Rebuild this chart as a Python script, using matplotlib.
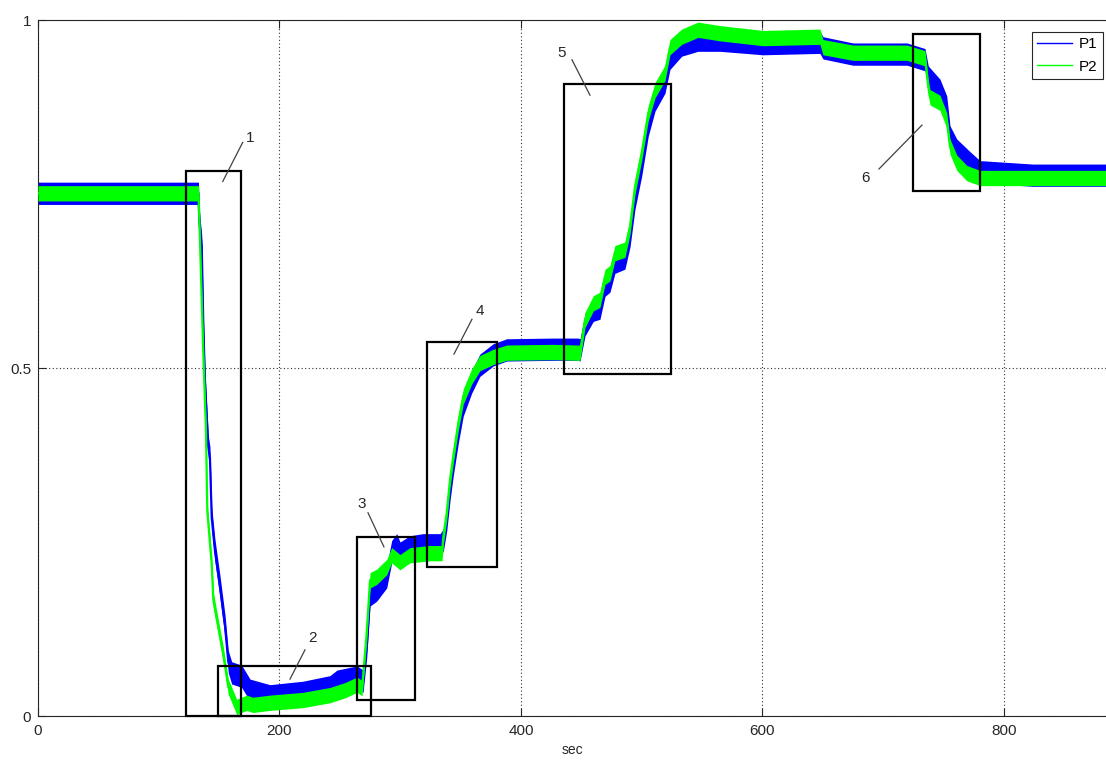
import matplotlib
matplotlib.use("Agg")
import matplotlib.pyplot as plt
from matplotlib.patches import Rectangle
from matplotlib.lines import Line2D

plt.rcParams['font.family'] = ['Liberation Sans', 'DejaVu Sans']

# ---- data (trend of each noisy trace) ----
p1_x = [0, 132.9, 133.6, 135.6, 136.9, 138.3, 141.0, 142.4, 143.9, 146.6, 150.7, 154.9,
        157.6, 160.4, 168.7, 175.6, 192.1, 219.5, 241.8, 247.6, 264.2, 269.2, 272.2, 275.0,
        280.5, 288.8, 292.9, 297.1, 299.8, 308.1, 318.8, 333.0, 335.7, 338.5, 341.2, 343.9,
        348.1, 352.2, 359.2, 366.0, 377.1, 388.2, 426.8, 447.2, 448.9, 453.0, 459.9, 465.4,
        469.6, 473.7, 477.8, 486.1, 490.3, 494.4, 500.0, 505.4, 511.0, 519.3, 523.4, 533.1,
        546.6, 564.8, 600.4, 647.6, 650.1, 675.0, 719.7, 734.6, 737.3, 747.0, 752.6, 755.3,
        760.9, 771.8, 780.1, 824.0, 884.5]
p1_y = [0.751, 0.751, 0.711, 0.675, 0.562, 0.480, 0.387, 0.371, 0.284, 0.237, 0.186, 0.129,
        0.078, 0.062, 0.057, 0.037, 0.029, 0.034, 0.042, 0.050, 0.056, 0.050, 0.099, 0.174,
        0.181, 0.200, 0.236, 0.246, 0.234, 0.243, 0.246, 0.246, 0.253, 0.282, 0.325, 0.361,
        0.408, 0.447, 0.480, 0.504, 0.519, 0.526, 0.527, 0.527, 0.526, 0.562, 0.583, 0.586,
        0.619, 0.625, 0.652, 0.658, 0.690, 0.744, 0.792, 0.849, 0.885, 0.911, 0.945, 0.964,
        0.971, 0.971, 0.966, 0.968, 0.960, 0.951, 0.951, 0.943, 0.918, 0.899, 0.875, 0.832,
        0.813, 0.795, 0.782, 0.777, 0.777]

p2_x = [0, 132.9, 134.2, 136.9, 139.1, 140.2, 143.9, 145.2, 153.5, 157.6, 164.6, 172.8,
        178.0, 192.1, 219.5, 241.8, 254.2, 264.2, 268.4, 272.2, 275.0, 280.5, 288.8, 292.9,
        299.8, 308.1, 324.6, 334.6, 335.7, 338.5, 341.2, 343.9, 348.1, 352.2, 359.2, 366.0,
        377.1, 388.2, 426.8, 447.2, 448.9, 453.0, 459.9, 465.4, 469.6, 473.7, 477.8, 486.1,
        490.3, 494.4, 500.0, 505.4, 511.0, 519.3, 523.4, 533.1, 546.6, 564.8, 600.4, 647.6,
        650.1, 675.0, 719.7, 734.6, 737.3, 738.7, 747.0, 752.6, 755.3, 760.9, 769.2, 780.1,
        884.5]
p2_y = [0.751, 0.751, 0.680, 0.521, 0.412, 0.295, 0.217, 0.167, 0.088, 0.042, 0.013, 0.019,
        0.016, 0.019, 0.023, 0.030, 0.037, 0.045, 0.040, 0.119, 0.195, 0.200, 0.214, 0.231,
        0.221, 0.231, 0.234, 0.234, 0.258, 0.292, 0.339, 0.373, 0.421, 0.459, 0.488, 0.507,
        0.516, 0.522, 0.523, 0.522, 0.522, 0.569, 0.593, 0.598, 0.631, 0.636, 0.665, 0.670,
        0.703, 0.760, 0.809, 0.866, 0.899, 0.924, 0.961, 0.976, 0.986, 0.981, 0.974, 0.976,
        0.961, 0.953, 0.953, 0.945, 0.904, 0.889, 0.881, 0.856, 0.818, 0.795, 0.780, 0.773,
        0.773]

series_names = ["P1", "P2"]

# highlighted regions: (label, x0, x1, y0, y1)
box_labels = ["1", "2", "3", "4", "5", "6"]
box_x0 = [122.6, 149.1, 264.2, 322.2, 435.6, 724.6]
box_x1 = [168.1, 275.8, 312.2, 380.1, 524.2, 780.1]
box_y0 = [0.0, 0.0, 0.023, 0.214, 0.491, 0.754]
box_y1 = [0.783, 0.072, 0.257, 0.537, 0.908, 0.980]
# label text position and leader line (start, end)
lab_x = [175.6, 227.7, 268.3, 366.0, 434.0, 685.7]
lab_y = [0.830, 0.112, 0.305, 0.582, 0.953, 0.773]
lead_x0 = [169.5, 221.1, 273.3, 359.4, 442.2, 696.5]
lead_y0 = [0.824, 0.095, 0.292, 0.570, 0.943, 0.786]
lead_x1 = [153.0, 208.7, 286.5, 344.5, 457.1, 732.1]
lead_y1 = [0.768, 0.053, 0.243, 0.520, 0.892, 0.849]

x_ticks = [0, 200, 400, 600, 800]
y_ticks = [0, 0.5, 1]
y_tick_labels = ["0", "0.5", "1"]

# ---- styles ----
BLUE = "#0000ff"
GREEN = "#00ff00"
NOISE_P1 = 0.016
NOISE_P2 = 0.011

fig = plt.figure(figsize=(11.06, 7.60), dpi=100)
ax = fig.add_axes([38 / 1106, 1 - 716 / 760, 1 - 38 / 1106, 696 / 760])

import numpy as np
x1 = np.array(p1_x); y1 = np.array(p1_y)
x2 = np.array(p2_x); y2 = np.array(p2_y)

ax.fill_between(x1, y1 - NOISE_P1, y1 + NOISE_P1, color=BLUE, lw=0, zorder=2)
ax.plot(x1, y1, color=BLUE, lw=1.6, zorder=2)
ax.fill_between(x2, y2 - NOISE_P2, y2 + NOISE_P2, color=GREEN, lw=0, zorder=3)
ax.plot(x2, y2, color=GREEN, lw=1.6, zorder=3)

for i in range(len(box_labels)):
    ax.add_patch(Rectangle((box_x0[i], box_y0[i]), box_x1[i] - box_x0[i],
                           box_y1[i] - box_y0[i], fill=False, ec="black",
                           lw=1.6, zorder=5, clip_on=False))
    ax.plot([lead_x0[i], lead_x1[i]], [lead_y0[i], lead_y1[i]],
            color="#404040", lw=0.9, zorder=5)
    ax.text(lab_x[i], lab_y[i], box_labels[i], fontsize=11, color="#262626",
            ha="center", va="center", zorder=6)

ax.set_xlim(0, 884.5)
ax.set_ylim(0, 1)
ax.set_xticks(x_ticks)
ax.set_xticklabels([str(t) for t in x_ticks])
ax.set_yticks(y_ticks)
ax.set_yticklabels(y_tick_labels)
ax.tick_params(direction="in", length=5.8, width=0.8, labelsize=11,
               top=True, right=False, colors="#262626")
ax.tick_params(axis="x", pad=6)
ax.tick_params(axis="y", pad=5)
ax.grid(True, linestyle=(0, (1, 2.2)), color="#303030", lw=0.8)
ax.set_axisbelow(True)
for side in ["left", "bottom", "top"]:
    ax.spines[side].set_linewidth(0.8)
    ax.spines[side].set_color("#262626")
ax.spines["right"].set_visible(False)
ax.set_xlabel("sec", fontsize=10, color="#262626", labelpad=3)

handles = [Line2D([], [], color=BLUE, lw=1.0), Line2D([], [], color=GREEN, lw=1.0)]
leg = fig.legend(handles, series_names, loc="upper right",
                 bbox_to_anchor=(1103 / 1106, 1 - 32 / 760), fontsize=11,
                 frameon=True, fancybox=False, framealpha=1, edgecolor="#262626",
                 handlelength=2.3, handletextpad=0.45, labelspacing=0.55,
                 borderpad=0.35, borderaxespad=0)
leg.get_frame().set_linewidth(0.8)

fig.savefig("out.png", dpi=100)
